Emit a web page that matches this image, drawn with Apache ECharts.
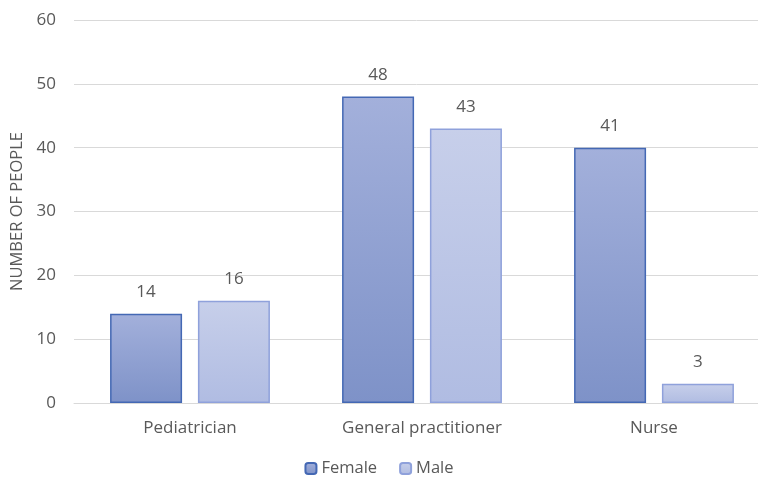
<!DOCTYPE html>
<html>
<head>
<meta charset="utf-8">
<script src="https://cdn.jsdelivr.net/npm/echarts@6/dist/echarts.min.js"></script>
<style>
  html, body { margin: 0; padding: 0; background: #fff; }
  #chart { width: 758px; height: 480px; }
</style>
</head>
<body>
<div id="chart"></div>
<script>
  const categories = ['Pediatrician', 'General practitioner', 'Nurse'];
  const femaleValues = [14, 48, 40];
  const maleValues = [16, 43, 3];
  // labels printed above the bars (the Nurse/Female label reads 41 in the original)
  const femaleLabels = ['14', '48', '41'];
  const maleLabels = ['16', '43', '3'];
  const yTicks = [0, 10, 20, 30, 40, 50, 60];

  const font = '"Open Sans", "Noto Sans", sans-serif';
  const grad = (top, bottom) => new echarts.graphic.LinearGradient(0, 0, 0, 1, [
    { offset: 0, color: top },
    { offset: 1, color: bottom }
  ]);

  const chart = echarts.init(document.getElementById('chart'));
  chart.setOption({
    animation: false,
    textStyle: { fontFamily: font },
    // plot area runs past the right edge, like the original
    grid: { left: 74, width: 696, top: 20, bottom: 77, outerBoundsMode: 'none' },
    legend: {
      bottom: -2,
      left: 'center',
      itemWidth: 11,
      itemHeight: 11,
      itemGap: 22,
      textStyle: { color: '#595959', fontSize: 16.5, fontFamily: font },
      data: ['Female', 'Male']
    },
    xAxis: {
      type: 'category',
      data: categories,
      axisLine: { lineStyle: { color: '#D9D9D9' } },
      axisTick: { show: false },
      axisLabel: { color: '#595959', fontSize: 17, margin: 17 }
    },
    yAxis: {
      type: 'value',
      min: yTicks[0],
      max: yTicks[yTicks.length - 1],
      interval: 10,
      name: 'NUMBER OF PEOPLE',
      nameLocation: 'middle',
      nameGap: 46,
      nameTextStyle: { color: '#595959', fontSize: 16.5 },
      axisLine: { show: false },
      axisTick: { show: false },
      axisLabel: { color: '#595959', fontSize: 17, margin: 18 },
      splitLine: { lineStyle: { color: '#D9D9D9' } }
    },
    series: [
      {
        name: 'Female',
        type: 'bar',
        data: femaleValues,
        barWidth: 72,
        barGap: '22%',
        itemStyle: {
          color: grad('#A3B0DB', '#7E92C8'),
          borderColor: '#4468B4',
          borderWidth: 1.5
        },
        label: {
          show: true,
          position: 'top',
          distance: 13,
          color: '#595959',
          fontSize: 17,
          formatter: p => femaleLabels[p.dataIndex]
        }
      },
      {
        name: 'Male',
        type: 'bar',
        data: maleValues,
        barWidth: 72,
        itemStyle: {
          color: grad('#C7CFEA', '#B0BCE2'),
          borderColor: '#8FA1DB',
          borderWidth: 1.5
        },
        label: {
          show: true,
          position: 'top',
          distance: 13,
          color: '#595959',
          fontSize: 17,
          formatter: p => maleLabels[p.dataIndex]
        }
      }
    ]
  });
</script>
</body>
</html>
